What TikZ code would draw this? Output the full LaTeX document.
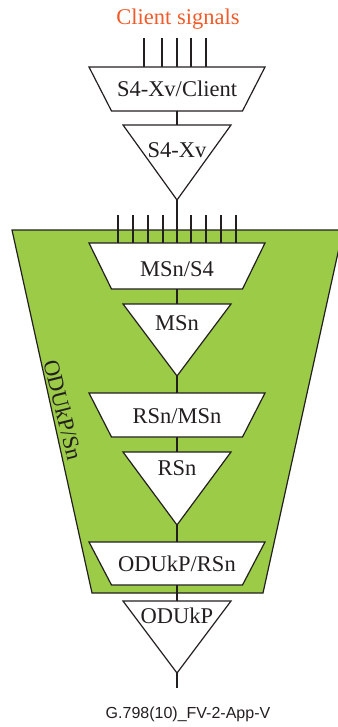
\documentclass[tikz,border=0pt]{standalone}
\usepackage{fontspec}
\setmainfont{Liberation Serif}
\newfontfamily\capfont{Liberation Sans}
\definecolor{odugreen}{HTML}{9BCB47}
\definecolor{clientred}{HTML}{F15A29}
\definecolor{lineblack}{HTML}{231F20}
\begin{document}
\begin{tikzpicture}[x=1pt,y=-1pt,
  shapeline/.style={draw=lineblack,line width=1.2pt,line join=miter},
  boxfill/.style={shapeline,fill=white},
  lab/.style={font=\fontsize{22.5}{24}\selectfont,text=lineblack,inner sep=0pt,anchor=base},
  wire/.style={draw=lineblack,line width=1.2pt}]
\useasboundingbox (0,0) rectangle (337,727);

% green ODUkP/Sn region
\path[shapeline,fill=odugreen] (12,230) -- (343,230) -- (263,593) -- (92,593) -- cycle;
\node[lab,anchor=center,rotate=-76] (odusn) at (63,410) {ODUkP/Sn};

% client signal lines
\foreach \x [count=\i] in {144,162,177,191,206} {
  \coordinate (cs\i) at (\x,38);
  \coordinate (ce\i) at (\x,67);
  \draw[wire] (cs\i) -- (ce\i);
}
\node[lab,text=clientred,anchor=base] (client) at (178,25) {Client signals};

% S4-Xv/Client adaptation
\path[boxfill] (89,67) -- (265,67) -- (242.5,111) -- (111.5,111) -- cycle;
\coordinate (t1b) at (177,111);
\node[lab] (t1) at (177,97) {S4-Xv/Client};

% S4-Xv trail termination
\coordinate (r1t) at (177,125);
\coordinate (r1a) at (177,200);
\path[boxfill] (123,125) -- (231,125) -- (r1a) -- cycle;
\node[lab] (r1) at (177,158) {S4-Xv};
\draw[wire] (t1b) -- (r1t);

% MSn/S4 adaptation with nine signal lines
\coordinate (t2t) at (177,243);
\draw[wire] (r1a) -- (t2t);
\foreach \x [count=\i] in {118,133,148,163,191,206,221,236} {
  \coordinate (ms\i) at (\x,215);
  \coordinate (me\i) at (\x,243);
  \draw[wire] (ms\i) -- (me\i);
}
\path[boxfill] (89,243) -- (265,243) -- (242.5,289) -- (111.5,289) -- cycle;
\coordinate (t2b) at (177,289);
\node[lab] (t2) at (177,276) {MSn/S4};

% MSn
\coordinate (r2t) at (177,304);
\coordinate (r2a) at (177,376);
\path[boxfill] (123,304) -- (231,304) -- (r2a) -- cycle;
\node[lab] (r2) at (177,330) {MSn};
\draw[wire] (t2b) -- (r2t);

% RSn/MSn
\coordinate (t3t) at (177,393);
\coordinate (t3b) at (177,437);
\path[boxfill] (89,393) -- (265,393) -- (242.5,437) -- (111.5,437) -- cycle;
\node[lab] (t3) at (177,423) {RSn/MSn};
\draw[wire] (r2a) -- (t3t);

% RSn
\coordinate (r3t) at (177,452);
\coordinate (r3a) at (177,525);
\path[boxfill] (123,452) -- (231,452) -- (r3a) -- cycle;
\node[lab] (r3) at (177,475) {RSn};
\draw[wire] (t3b) -- (r3t);

% ODUkP/RSn
\coordinate (t4t) at (177,542);
\coordinate (t4b) at (177,585);
\path[boxfill] (89,542) -- (265,542) -- (242.5,585) -- (111.5,585) -- cycle;
\node[lab] (t4) at (177,571) {ODUkP/RSn};
\draw[wire] (r3a) -- (t4t);

% ODUkP
\coordinate (r4t) at (177,601);
\coordinate (r4a) at (177,673);
\coordinate (r4e) at (177,688);
\path[boxfill] (123,601) -- (231,601) -- (r4a) -- cycle;
\node[lab] (r4) at (177,623) {ODUkP};
\draw[wire] (t4b) -- (r4t);
\draw[wire] (r4a) -- (r4e);

% figure caption
\node[font=\capfont\fontsize{16}{18}\selectfont,text=lineblack,inner sep=0pt,anchor=base] (cap) at (188,718) {G.798(10)\_FV-2-App-V};
\end{tikzpicture}
\end{document}
